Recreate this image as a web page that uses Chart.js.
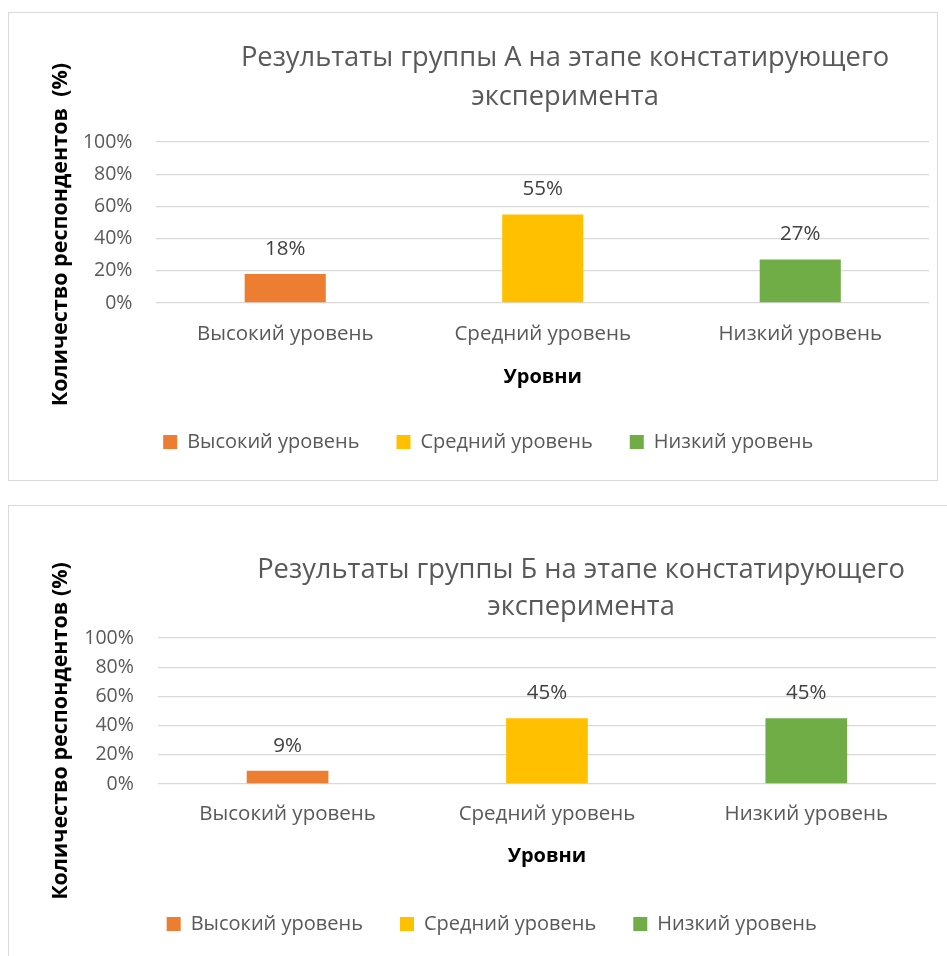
<!DOCTYPE html>
<html>
<head>
<meta charset="utf-8">
<script src="https://cdn.jsdelivr.net/npm/chart.js@4.4.0/dist/chart.umd.min.js"></script>
<style>
    html, body { margin: 0; padding: 0; background: #fff; overflow: hidden; width: 947px; height: 956px; }
    .box { position: absolute; border: 1px solid #d9d9d9; box-sizing: border-box; background: #fff; }
    #boxA { left: 8px; top: 12px; width: 930px; height: 469px; }
    #boxB { left: 8px; top: 505px; width: 960px; height: 470px; }
</style>
</head>
<body>
<div class="box" id="boxA"><canvas id="chartA"></canvas></div>
<div class="box" id="boxB"><canvas id="chartB"></canvas></div>
<script>
// Chart data
const categories = ['Высокий уровень', 'Средний уровень', 'Низкий уровень'];
const valuesA = [18, 55, 27];
const valuesB = [9, 45, 45];
const yTicks = [0, 20, 40, 60, 80, 100];
const titleA = ['Результаты группы А на этапе констатирующего', 'эксперимента'];
const titleB = ['Результаты группы Б на этапе констатирующего', 'эксперимента'];
const yTitle = 'Количество респондентов  (%)';
const yTitleB = 'Количество респондентов (%)';
const xTitle = 'Уровни';
const barColors = ['#ED7D31', '#FFC000', '#70AD47'];

const FONT = '"Open Sans", "Noto Sans", sans-serif';
const GREY = '#595959';

// Value labels above the bars
const valueLabels = {
    id: 'valueLabels',
    afterDatasetsDraw(chart) {
        const ctx = chart.ctx;
        const meta = chart.getDatasetMeta(0);
        const data = chart.data.datasets[0].data;
        ctx.save();
        ctx.font = '20.5px ' + FONT;
        ctx.fillStyle = '#404040';
        ctx.textAlign = 'center';
        ctx.textBaseline = 'middle';
        meta.data.forEach((bar, i) => {
            ctx.fillText(data[i] + '%', bar.x, bar.y - 25);
        });
        ctx.restore();
    }
};

// Excel places the titles a bit off centre, nudge them
const titleShift = {
    id: 'titleShift',
    afterLayout(chart, args, opts) {
        const t = chart.titleBlock;
        if (t && opts.center != null) {
            const dx = opts.center - (t.left + t.right) / 2;
            t.left += dx;
            t.right += dx;
        }
        const s = chart.scales.y;
        const dy = opts.yTitleDown || 0;
        if (s && dy && !s._drawTitleOrig) {
            s._drawTitleOrig = s.drawTitle;
            s.drawTitle = function () {
                this.top += dy;
                this.bottom += dy;
                this._drawTitleOrig();
                this.top -= dy;
                this.bottom -= dy;
            };
        }
    }
};

function makeChart(id, values, title, cfg) {
    return new Chart(document.getElementById(id), {
        type: 'bar',
        data: {
            labels: categories,
            datasets: [{
                data: values,
                backgroundColor: barColors,
                borderWidth: 0,
                categoryPercentage: 1,
                barPercentage: 0.315
            }]
        },
        options: {
            responsive: true,
            maintainAspectRatio: false,
            animation: false,
            layout: { padding: cfg.padding },
            plugins: {
                title: {
                    display: true,
                    text: title,
                    color: GREY,
                    font: { family: FONT, size: 27.3, weight: 'normal', lineHeight: cfg.titleLine },
                    padding: cfg.titlePad
                },
                legend: {
                    position: 'bottom',
                    onClick: null,
                    labels: {
                        boxWidth: 14,
                        boxHeight: 14,
                        padding: 37,
                        color: GREY,
                        font: { family: FONT, size: 20 },
                        generateLabels: () => categories.map((c, i) => ({
                            text: c,
                            fillStyle: barColors[i],
                            strokeStyle: barColors[i],
                            lineWidth: 0,
                            fontColor: GREY,
                            hidden: false,
                            index: i
                        }))
                    }
                },
                tooltip: { enabled: false },
                titleShift: { center: cfg.titleCenter, yTitleDown: cfg.yTitleDown }
            },
            scales: {
                x: {
                    grid: { display: false, drawTicks: false },
                    border: { display: false },
                    ticks: { color: GREY, padding: cfg.xTickPad, font: { family: FONT, size: 20.5 } },
                    title: {
                        display: true,
                        text: xTitle,
                        color: '#000',
                        font: { family: FONT, size: 20, weight: 'bold' },
                        padding: { top: 0, bottom: cfg.xTitleBottom }
                    }
                },
                y: {
                    min: 0,
                    max: 100,
                    afterBuildTicks: s => { s.ticks = yTicks.map(v => ({ value: v })); },
                    grid: { color: '#d9d9d9', lineWidth: 1.3, drawTicks: true, tickLength: 24, tickColor: 'transparent' },
                    border: { display: false },
                    ticks: { color: GREY, padding: 0, autoSkip: false, font: { family: FONT, size: 19.5 }, callback: v => v + '%' },
                    title: {
                        display: true,
                        text: cfg.yTitle,
                        color: '#000',
                        font: { family: FONT, size: 21.5, weight: 'bold' },
                        padding: { top: 0, bottom: cfg.yTitleBottom }
                    }
                }
            }
        },
        plugins: [valueLabels, titleShift]
    });
}

makeChart('chartA', valuesA, titleA, {
    padding: { left: 38.5, right: 8, top: 0, bottom: 18 },
    titleLine: 1.43,
    titlePad: { top: 26, bottom: 25 },
    xTickPad: 19,
    xTitleBottom: 5.4,
    yTitleBottom: 9.6,
    yTitleDown: 12,
    titleCenter: 556,
    yTitle: yTitle
});

makeChart('chartB', valuesB, titleB, {
    padding: { left: 38.5, right: 31, top: 0, bottom: 30 },
    titleLine: 1.355,
    titlePad: { top: 45.5, bottom: 12.5 },
    xTickPad: 18,
    xTitleBottom: 8.4,
    yTitleBottom: 11,
    yTitleDown: 20,
    titleCenter: 572,
    yTitle: yTitleB
});
</script>
</body>
</html>
